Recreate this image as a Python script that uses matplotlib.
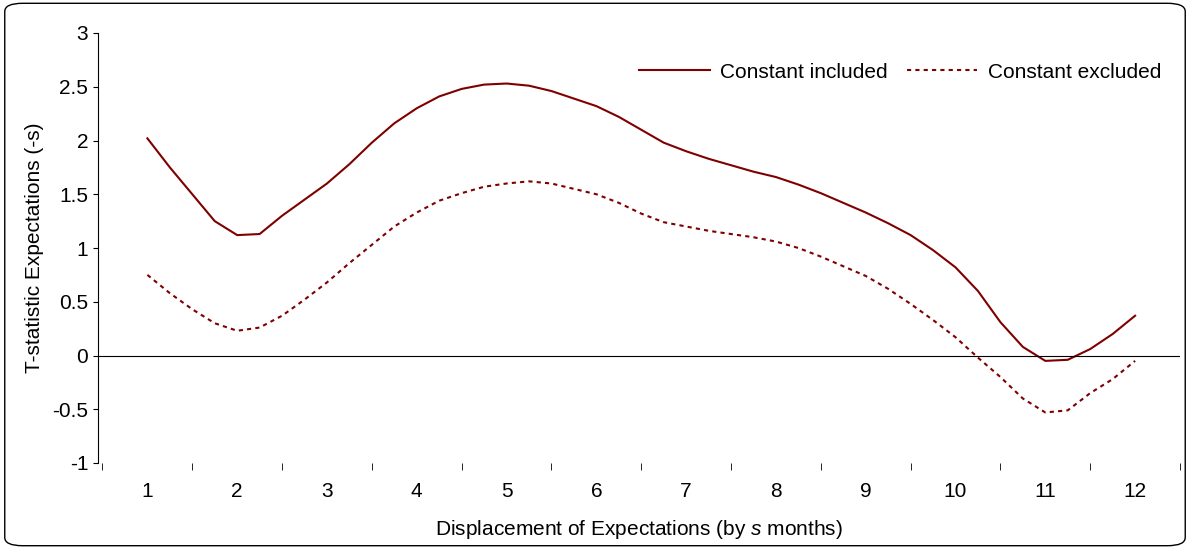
import numpy as np
import matplotlib.pyplot as plt
from matplotlib.patches import FancyBboxPatch

plt.rcParams["font.family"] = ["Liberation Sans", "DejaVu Sans"]
plt.rcParams["mathtext.fontset"] = "custom"
plt.rcParams["mathtext.it"] = "Liberation Sans:italic"

# displacement grid (quarter steps)
x_vals = [1 + 0.25 * i for i in range(45)]

const_included = [2.02, 1.75, 1.50, 1.25, 1.12, 1.13, 1.30, 1.45, 1.60, 1.78,
                  1.98, 2.16, 2.30, 2.41, 2.48, 2.52, 2.53, 2.51, 2.46, 2.39,
                  2.32, 2.22, 2.10, 1.98, 1.90, 1.83, 1.77, 1.71, 1.66, 1.59,
                  1.51, 1.42, 1.33, 1.23, 1.12, 0.98, 0.82, 0.60, 0.31, 0.08,
                  -0.05, -0.04, 0.06, 0.20, 0.37]

const_excluded = [0.75, 0.58, 0.43, 0.30, 0.23, 0.26, 0.37, 0.52, 0.68, 0.86,
                  1.03, 1.20, 1.33, 1.44, 1.51, 1.57, 1.60, 1.62, 1.60, 1.55,
                  1.50, 1.42, 1.32, 1.24, 1.20, 1.16, 1.13, 1.10, 1.06, 1.00,
                  0.92, 0.83, 0.74, 0.62, 0.48, 0.33, 0.17, -0.02, -0.20, -0.40,
                  -0.53, -0.51, -0.35, -0.22, -0.05]

month_labels = [str(m) for m in range(1, 13)]

color = "#7f0000"
fs = 15

fig = plt.figure(figsize=(11.9, 5.49), dpi=100)
fig.patches.append(FancyBboxPatch((0.004, 0.006), 0.992, 0.988,
                                  boxstyle="round,pad=0,rounding_size=0.015",
                                  transform=fig.transFigure, fill=False,
                                  edgecolor="black", linewidth=1))
ax = fig.add_axes([98 / 1190, 1 - 463 / 549, (1180 - 98) / 1190, (463 - 33) / 549])

ax.plot(x_vals, const_included, color=color, lw=1.5, label="Constant included")
ax.plot(x_vals, const_excluded, color=color, lw=1.5, ls=(0, (2, 2)),
        label="Constant excluded")
ax.axhline(0, color="black", lw=0.8)

ax.set_xlim(0.45, 12.5)
ax.set_ylim(-1, 3)
ax.set_yticks(np.arange(-1, 3.01, 0.5))
ax.set_yticklabels(["-1", "-0.5", "0", "0.5", "1", "1.5", "2", "2.5", "3"])
ax.set_xticks(range(1, 13))
ax.set_xticklabels(month_labels)
ax.set_xticks(np.arange(0.5, 12.6, 1), minor=True)
ax.tick_params(axis="x", which="major", length=0, labelsize=fs, pad=14)
ax.tick_params(axis="x", which="minor", length=5)
ax.tick_params(axis="y", labelsize=fs)

for side in ["top", "right", "bottom"]:
    ax.spines[side].set_visible(False)

ax.set_ylabel("T-statistic Expectations (-s)", fontsize=fs, labelpad=6)
ax.set_xlabel("Displacement of Expectations (by $s$ months)", fontsize=fs,
              labelpad=12)

ax.legend(loc="upper right", bbox_to_anchor=(1.0, 0.975), frameon=False, ncol=2,
          fontsize=fs, handlelength=3.4, columnspacing=0.9, handletextpad=0.5)

fig.savefig("out.png", dpi=100)
